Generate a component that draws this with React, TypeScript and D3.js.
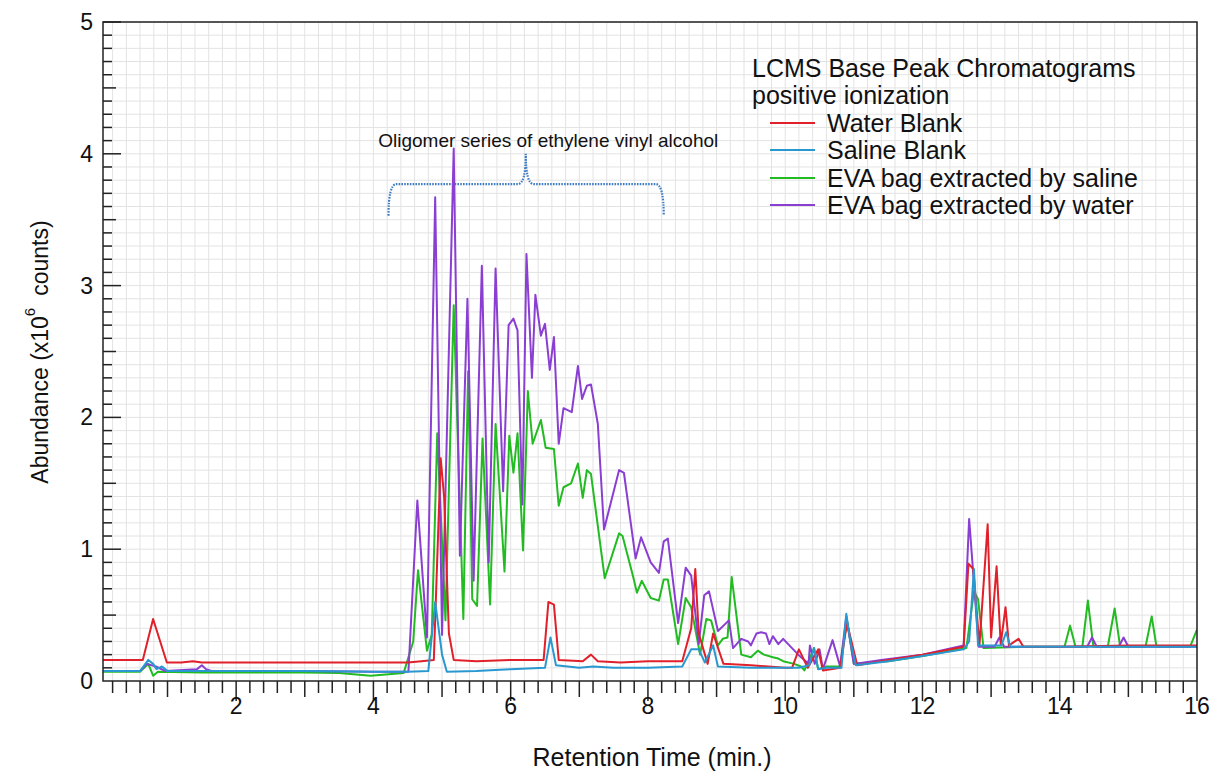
import React from "react";
import * as d3 from "d3";

type Pt = [number, number];

// Retention time (min) vs abundance (x10^6 counts)
const waterBlank: Pt[] = [
  [0.06,0.16],[0.3,0.16],[0.64,0.16],[0.79,0.47],[0.99,0.14],[1.2,0.14],[1.37,0.15],[1.5,0.14],[2,0.14],[2.5,0.14],[3,0.14],[3.5,0.14],[4,0.14],[4.5,0.14],[4.7,0.15],[4.88,0.16],[4.98,1.69],[5.03,1.4],[5.1,0.36],[5.17,0.16],[5.5,0.15],[6,0.16],[6.48,0.16],[6.55,0.6],[6.63,0.58],[6.7,0.16],[7.05,0.15],[7.17,0.2],[7.27,0.15],[7.6,0.14],[8,0.15],[8.5,0.15],[8.63,0.4],[8.69,0.85],[8.74,0.36],[8.87,0.13],[8.95,0.36],[9.1,0.13],[9.5,0.12],[10,0.1],[10.1,0.1],[10.2,0.24],[10.33,0.1],[10.48,0.24],[10.55,0.08],[10.8,0.1],[10.9,0.44],[11.05,0.12],[11.5,0.16],[12,0.2],[12.3,0.23],[12.6,0.26],[12.67,0.89],[12.74,0.85],[12.83,0.27],[12.95,1.19],[13.0,0.33],[13.08,0.87],[13.14,0.28],[13.21,0.56],[13.26,0.27],[13.4,0.32],[13.47,0.26],[14,0.26],[15,0.27],[16,0.27]
];

const salineBlank: Pt[] = [
  [0.06,0.075],[0.6,0.075],[0.72,0.16],[0.79,0.13],[0.84,0.09],[0.92,0.11],[1.0,0.075],[2,0.075],[3,0.075],[4,0.07],[4.5,0.07],[4.8,0.075],[4.9,0.6],[5.0,0.2],[5.07,0.07],[5.5,0.075],[6,0.09],[6.5,0.1],[6.58,0.33],[6.66,0.12],[7,0.1],[7.2,0.11],[7.5,0.1],[8,0.1],[8.5,0.11],[8.63,0.24],[8.74,0.24],[8.83,0.14],[8.95,0.27],[9.02,0.11],[9.5,0.1],[10.2,0.1],[10.35,0.12],[10.42,0.25],[10.48,0.09],[10.6,0.1],[10.82,0.1],[10.89,0.51],[10.95,0.3],[11.03,0.12],[11.5,0.15],[12,0.19],[12.6,0.24],[12.68,0.3],[12.75,0.85],[12.81,0.27],[13.15,0.27],[13.22,0.37],[13.28,0.26],[14,0.26],[15,0.26],[16,0.26]
];

const evaSaline: Pt[] = [
  [0.06,0.07],[0.6,0.07],[0.72,0.13],[0.79,0.04],[0.86,0.07],[1.5,0.065],[2,0.065],[3,0.065],[3.5,0.06],[3.96,0.04],[4.44,0.06],[4.58,0.3],[4.65,0.84],[4.78,0.23],[4.85,0.35],[4.93,1.88],[5.05,0.46],[5.17,2.85],[5.31,0.47],[5.38,2.35],[5.44,0.62],[5.51,0.57],[5.59,1.84],[5.7,0.58],[5.78,1.95],[5.91,0.83],[5.98,1.86],[6.04,1.58],[6.1,1.88],[6.18,0.99],[6.25,2.2],[6.32,1.8],[6.44,1.98],[6.51,1.77],[6.63,1.76],[6.7,1.33],[6.77,1.47],[6.88,1.5],[6.98,1.65],[7.05,1.39],[7.11,1.6],[7.17,1.57],[7.37,0.78],[7.58,1.12],[7.63,1.1],[7.78,0.8],[7.84,0.67],[7.91,0.76],[8.04,0.63],[8.16,0.61],[8.23,0.77],[8.29,0.77],[8.44,0.28],[8.55,0.63],[8.63,0.56],[8.76,0.2],[8.85,0.47],[8.92,0.46],[9.02,0.27],[9.09,0.32],[9.16,0.33],[9.22,0.79],[9.36,0.2],[9.5,0.18],[9.6,0.23],[9.69,0.2],[9.82,0.18],[9.9,0.17],[9.97,0.15],[10.13,0.13],[10.23,0.11],[10.28,0.08],[10.42,0.25],[10.48,0.09],[10.6,0.11],[10.8,0.11],[10.9,0.46],[11.0,0.13],[11.5,0.15],[12,0.19],[12.64,0.25],[12.75,0.68],[12.81,0.62],[12.89,0.25],[13.5,0.26],[14.07,0.26],[14.15,0.42],[14.23,0.26],[14.33,0.26],[14.41,0.61],[14.49,0.26],[14.7,0.26],[14.8,0.55],[14.88,0.26],[15.25,0.26],[15.34,0.49],[15.41,0.26],[15.9,0.26],[16.0,0.39]
];

const evaWater: Pt[] = [
  [0.06,0.075],[0.6,0.075],[0.7,0.13],[0.83,0.11],[0.97,0.075],[1.43,0.09],[1.5,0.12],[1.56,0.09],[1.65,0.075],[2,0.075],[3,0.075],[4,0.07],[4.51,0.07],[4.64,1.37],[4.78,0.33],[4.9,3.67],[5.0,0.35],[5.17,4.04],[5.26,0.95],[5.37,2.9],[5.46,0.76],[5.58,3.15],[5.68,0.9],[5.78,3.13],[5.89,1.44],[5.97,2.7],[6.04,2.75],[6.1,2.66],[6.17,1.34],[6.23,3.24],[6.31,2.3],[6.36,2.93],[6.44,2.62],[6.5,2.71],[6.57,2.36],[6.63,2.61],[6.7,1.8],[6.77,2.07],[6.89,2.04],[6.98,2.39],[7.04,2.14],[7.11,2.24],[7.17,2.25],[7.27,1.95],[7.36,1.15],[7.58,1.6],[7.65,1.58],[7.82,0.93],[7.9,1.09],[8.04,0.9],[8.16,0.82],[8.23,1.06],[8.29,1.08],[8.44,0.44],[8.55,0.86],[8.63,0.8],[8.74,0.28],[8.82,0.65],[8.89,0.68],[9.02,0.38],[9.18,0.46],[9.24,0.25],[9.36,0.32],[9.46,0.3],[9.5,0.27],[9.58,0.36],[9.65,0.37],[9.72,0.36],[9.77,0.28],[9.82,0.34],[9.9,0.28],[9.97,0.32],[10.19,0.2],[10.34,0.13],[10.36,0.27],[10.43,0.13],[10.5,0.24],[10.55,0.09],[10.69,0.31],[10.8,0.11],[10.89,0.49],[11.0,0.13],[11.4,0.16],[12,0.2],[12.6,0.27],[12.68,1.23],[12.82,0.26],[13.05,0.26],[13.12,0.33],[13.19,0.26],[14.4,0.26],[14.47,0.33],[14.54,0.26],[14.86,0.26],[14.93,0.33],[15.0,0.26],[16,0.26]
];

const seriesNames = ["Water Blank", "Saline Blank", "EVA bag extracted by saline", "EVA bag extracted by water"];
const seriesColors = ["#e0202a", "#2a98d0", "#22bb22", "#8a3fd2"];
const seriesData = [waterBlank, salineBlank, evaSaline, evaWater];
const drawOrder = [2, 3, 0, 1];

const xTickLabels = [2, 4, 6, 8, 10, 12, 14, 16];
const yTickLabels = [0, 1, 2, 3, 4, 5];

const legendTitle = ["LCMS Base Peak Chromatograms", "positive ionization"];
const annotationText = "Oligomer series of ethylene vinyl alcohol";
const annotationAt: Pt = [4.07, 4.1];
// bracket: [left time, center time, right time], [end abundance, bar abundance, top abundance]
const bracketTimes = [4.22, 6.22, 8.23];
const bracketLevels = [3.53, 3.77, 4.0];

const W = 1213, H = 771;
const L = 103, R = 1197, T = 22, B = 681;
const FONT = "'Liberation Sans', Arial, Helvetica, sans-serif";

export default function App() {
  const x = d3.scaleLinear().domain([0.06, 16]).range([L, R]);
  const y = d3.scaleLinear().domain([0, 5]).range([B, T]);

  const line = d3.line<Pt>().x(d => x(d[0])).y(d => y(d[1]));

  const xMinor = d3.range(1, 81).map(i => i * 0.2).filter(v => v > 0.06 && v <= 16.001);
  const yMinor = d3.range(1, 51).map(i => i * 0.1);

  const isMult = (v: number, m: number) => Math.abs(v / m - Math.round(v / m)) < 1e-6;

  const [bl, bc, br] = bracketTimes.map(t => x(t));
  const [bEnd, bBar, bTop] = bracketLevels.map(v => y(v));
  const r = 8;
  const bracketPath = `M${bl},${bEnd} Q${bl},${bBar} ${bl + r},${bBar} L${bc - r},${bBar} Q${bc},${bBar} ${bc},${bTop} Q${bc},${bBar} ${bc + r},${bBar} L${br - r},${bBar} Q${br},${bBar} ${br},${bEnd}`;

  const legX = 752;
  const legRows = [68, 95, 123, 150, 178, 205];

  return (
    <svg width={W} height={H} style={{ position: "absolute", left: 0, top: 0, background: "#fff" }} fontFamily={FONT}>
      <rect x={0} y={0} width={W} height={H} fill="#fff" />
      <defs>
        <clipPath id="plotclip"><rect x={L} y={T} width={R - L} height={B - T} /></clipPath>
      </defs>
      {/* grid */}
      <g stroke="#e3e3e3" strokeWidth={1}>
        {xMinor.map((v, i) => <line key={"gx" + i} x1={x(v)} x2={x(v)} y1={T} y2={B} />)}
        {yMinor.map((v, i) => <line key={"gy" + i} x1={L} x2={R} y1={y(v)} y2={y(v)} />)}
      </g>
      {/* annotation */}
      <text x={x(annotationAt[0])} y={y(annotationAt[1])} fontSize={19} fill="#111" dominantBaseline="central">{annotationText}</text>
      <path d={bracketPath} fill="none" stroke="#3f7cc2" strokeWidth={2.2} strokeDasharray="1.6,1.2" />
      {/* series */}
      <g clipPath="url(#plotclip)">
        {drawOrder.map(i => (
          <path key={"s" + i} d={line(seriesData[i]) || ""} fill="none" stroke={seriesColors[i]} strokeWidth={2} strokeLinejoin="round" />
        ))}
      </g>
      {/* frame */}
      <rect x={L} y={T} width={R - L} height={B - T} fill="none" stroke="#222" strokeWidth={1.5} />
      {/* ticks */}
      <g stroke="#222" strokeWidth={1.5}>
        {yMinor.map((v, i) => {
          const len = isMult(v, 1) ? 18 : isMult(v, 0.5) ? 13 : 9;
          return <line key={"yt" + i} x1={L} x2={L + len} y1={y(v)} y2={y(v)} />;
        })}
        {xMinor.map((v, i) => {
          const len = isMult(v, 2) ? 20 : isMult(v, 1) ? 16 : 12;
          return <line key={"xt" + i} x1={x(v)} x2={x(v)} y1={B} y2={B + len} />;
        })}
      </g>
      {/* tick labels */}
      <g fontSize={23} fill="#111">
        {yTickLabels.map(v => (
          <text key={"yl" + v} x={L - 10} y={y(v)} textAnchor="end" dominantBaseline="central">{v}</text>
        ))}
        {xTickLabels.map(v => (
          <text key={"xl" + v} x={x(v)} y={B + 25} textAnchor="middle" dominantBaseline="central">{v}</text>
        ))}
      </g>
      {/* axis titles */}
      <text x={652} y={757} textAnchor="middle" dominantBaseline="central" fontSize={25} fill="#111">Retention Time (min.)</text>
      <text transform={`translate(40,352) rotate(-90)`} textAnchor="middle" dominantBaseline="central" fontSize={23} fill="#111">
        Abundance (x10<tspan dy={-11} fontSize={15}>6</tspan><tspan dy={11} dx={12}>counts)</tspan>
      </text>
      {/* legend */}
      <g fontSize={25} fill="#111">
        <text x={legX} y={legRows[0]} dominantBaseline="central">{legendTitle[0]}</text>
        <text x={legX} y={legRows[1]} dominantBaseline="central">{legendTitle[1]}</text>
        {seriesNames.map((n, i) => (
          <g key={"lg" + i}>
            <line x1={770} x2={815} y1={legRows[i + 2]} y2={legRows[i + 2]} stroke={seriesColors[i]} strokeWidth={2} />
            <text x={827} y={legRows[i + 2]} dominantBaseline="central">{n}</text>
          </g>
        ))}
      </g>
    </svg>
  );
}
